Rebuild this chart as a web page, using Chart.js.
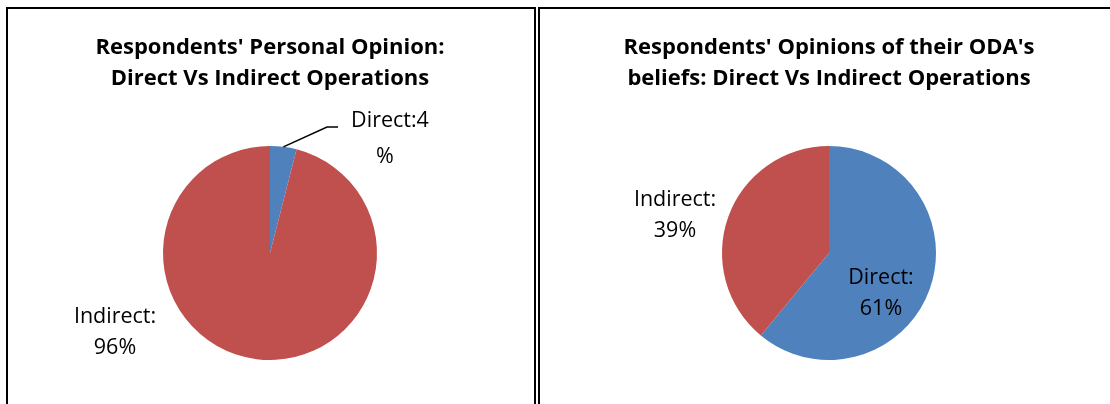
<!DOCTYPE html>
<html>
<head>
<meta charset="utf-8">
<script src="https://cdn.jsdelivr.net/npm/chart.js@4.4.0/dist/chart.umd.min.js"></script>
<style>
  html, body { margin: 0; padding: 0; background: #fff; }
  body { width: 1110px; height: 404px; position: relative; overflow: hidden; }
  .panel { position: absolute; border: 2px solid #000; box-sizing: border-box; }
  canvas { position: absolute; top: 0; }
</style>
</head>
<body>
<div class="panel" style="left:6px; top:7px; width:530px; height:420px;"></div>
<div class="panel" style="left:538px; top:7px; width:600px; height:420px;"></div>
<canvas id="chart1" style="left:0px;"></canvas>
<canvas id="chart2" style="left:559px;"></canvas>
<script>
// Data
const categories = ['Direct', 'Indirect'];
const personalValues = [4, 96];
const odaValues = [61, 39];
const personalTitle = ["Respondents' Personal Opinion:", 'Direct Vs Indirect Operations'];
const odaTitle = ["Respondents' Opinions of their ODA's", 'beliefs: Direct Vs Indirect Operations'];

const colors = ['#4F81BD', '#C0504D'];
const labelFont = '21.5px "Open Sans", sans-serif';

// label lines + where they sit (canvas px), plus optional leader line
function labelLines(cat, val, splitAfterValue) {
  return splitAfterValue ? [cat + ':' + val, '%'] : [cat + ':', val + '%'];
}

const dataLabels = {
  id: 'dataLabels',
  afterDatasetsDraw(chart, args, opts) {
    const ctx = chart.ctx;
    const meta = chart.getDatasetMeta(0);
    const values = chart.data.datasets[0].data;
    ctx.save();
    ctx.font = labelFont;
    ctx.fillStyle = '#000';
    ctx.textAlign = 'center';
    ctx.textBaseline = 'middle';
    opts.spots.forEach((s, i) => {
      const lines = labelLines(chart.data.labels[i], values[i], s.split);
      const gap = s.gap || 31;
      lines.forEach((t, j) => ctx.fillText(t, s.x + (j ? (s.dx2 || 0) : 0), s.y + j * gap));
      if (s.leader) {
        const arc = meta.data[i];
        const mid = (arc.startAngle + arc.endAngle) / 2;
        const px = arc.x + Math.cos(mid) * arc.outerRadius;
        const py = arc.y + Math.sin(mid) * arc.outerRadius;
        ctx.beginPath();
        ctx.strokeStyle = '#000';
        ctx.lineWidth = 1.5;
        ctx.moveTo(px, py);
        ctx.lineTo(s.leader[0], s.leader[1]);
        ctx.lineTo(s.leader[2], s.leader[1]);
        ctx.stroke();
      }
    });
    ctx.restore();
  }
};

function makePie(id, title, values, spots) {
  const el = document.getElementById(id);
  el.width = 540;
  el.height = 404;
  return new Chart(el, {
    type: 'pie',
    data: {
      labels: categories,
      datasets: [{
        data: values,
        backgroundColor: colors,
        borderWidth: 0
      }]
    },
    options: {
      responsive: false,
      animation: false,
      layout: { padding: { top: 0, bottom: 44, left: 0, right: 0 } },
      plugins: {
        legend: { display: false },
        tooltip: { enabled: false },
        title: {
          display: true,
          text: title,
          color: '#000',
          font: { family: '"Open Sans", sans-serif', size: 22, weight: 'bold', lineHeight: '31px' },
          padding: { top: 32.5, bottom: 51.5 }
        },
        dataLabels: { spots: spots }
      }
    },
    plugins: [dataLabels]
  });
}

makePie('chart1', personalTitle, personalValues, [
  { x: 390, y: 121, split: true, gap: 36, dx2: -5, leader: [327, 127, 338] },
  { x: 115, y: 317 }
]);

makePie('chart2', odaTitle, odaValues, [
  { x: 322, y: 278 },
  { x: 116, y: 200 }
]);
</script>
</body>
</html>
